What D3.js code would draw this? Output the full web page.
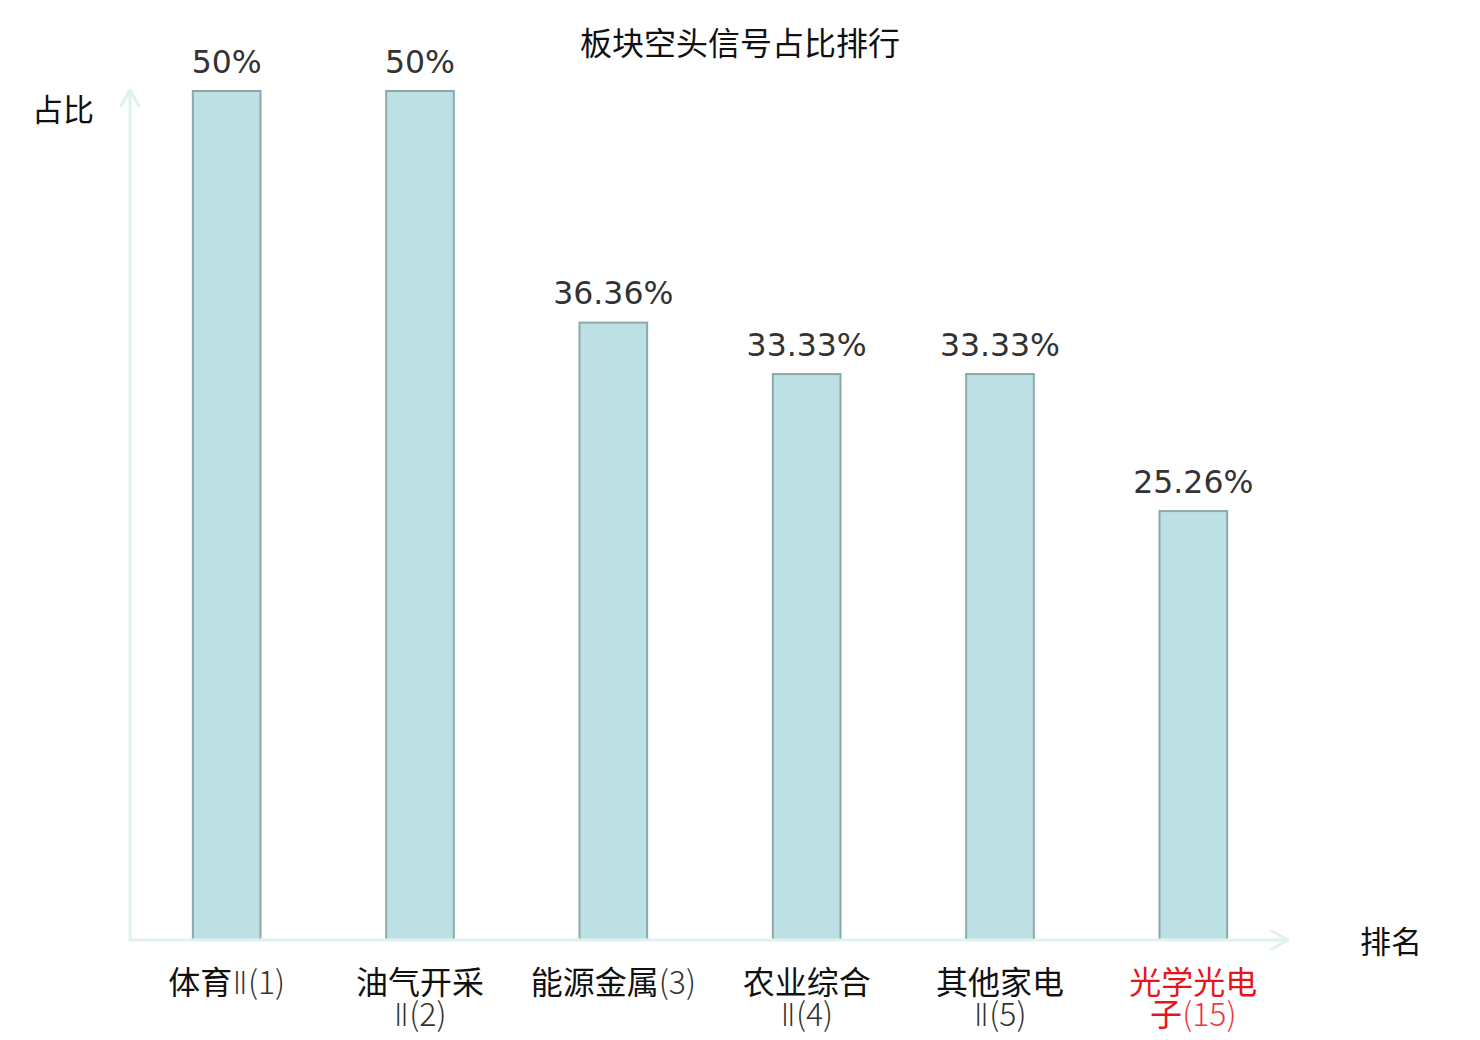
<!DOCTYPE html>
<html><head><meta charset="utf-8">
<script src="https://cdn.jsdelivr.net/npm/d3@7"></script>
<style>
html,body{margin:0;padding:0;background:#fff;}
svg{display:block;}
</style>
</head><body>
<svg id="chart" width="1480" height="1040"></svg>
<script>
const title = "板块空头信号占比排行";
const yAxisName = "占比";
const xAxisName = "排名";
const categories = ["体育Ⅱ(1)", "油气开采Ⅱ(2)", "能源金属(3)", "农业综合Ⅱ(4)", "其他家电Ⅱ(5)", "光学光电子(15)"];
const values = [50, 50, 36.36, 33.33, 33.33, 25.26];
const valueLabels = ["50%", "50%", "36.36%", "33.33%", "33.33%", "25.26%"];
const highlighted = [false, false, false, false, false, true];

(function () {
const svg = d3.select("#chart");
const mLeft = 130, mRight = 1290, mTop = 91, mBottom = 940;
const axisColor = "#dff2ef";
const cjkFont = "'Noto Sans CJK SC', sans-serif";

const x = d3.scaleBand().domain(categories).range([mLeft, mRight]).paddingInner(0.65).paddingOuter(0.325);
const y = d3.scaleLinear().domain([0, 50]).range([mBottom, mTop]);

// title
svg.append("text").attr("x", 740).attr("y", 55).attr("text-anchor", "middle")
  .attr("font-family", cjkFont).attr("font-size", 32).attr("fill", "#111")
  .text(title);

// bars
svg.append("g").selectAll("rect").data(values).join("rect")
  .attr("x", (d, i) => x(categories[i]))
  .attr("y", d => y(d))
  .attr("width", x.bandwidth())
  .attr("height", d => mBottom - y(d))
  .attr("fill", "#bce0e3")
  .attr("stroke", "#8ba9aa")
  .attr("stroke-width", 2);

// value labels
svg.append("g").selectAll("text").data(values).join("text")
  .attr("x", (d, i) => x(categories[i]) + x.bandwidth() / 2)
  .attr("y", d => y(d) - 18.5)
  .attr("text-anchor", "middle")
  .attr("font-family", "'DejaVu Sans', sans-serif").attr("font-size", 31.5).attr("fill", "#333")
  .text((d, i) => valueLabels[i]);

// axes
const axes = svg.append("g").attr("stroke", axisColor).attr("stroke-width", 3).attr("fill", "none")
  .attr("stroke-linecap", "round").attr("stroke-linejoin", "round");
axes.append("line").attr("x1", mLeft).attr("y1", mBottom).attr("x2", mLeft).attr("y2", 90);
axes.append("path").attr("d", `M${mLeft - 9},${106} L${mLeft},${90} L${mLeft + 9},${106}`);
axes.append("line").attr("x1", mLeft).attr("y1", mBottom).attr("x2", 1288).attr("y2", mBottom);
axes.append("path").attr("d", `M${1272},${mBottom - 9} L${1288},${mBottom} L${1272},${mBottom + 9}`);

// axis names
svg.append("text").attr("x", 63).attr("y", 121).attr("text-anchor", "middle")
  .attr("font-family", cjkFont).attr("font-size", 31).attr("fill", "#111").text(yAxisName);
svg.append("text").attr("x", 1391).attr("y", 953).attr("text-anchor", "middle")
  .attr("font-family", cjkFont).attr("font-size", 31).attr("fill", "#111").text(xAxisName);

// category labels: long labels break after the 4th character
function splitLabel(s) {
  const ch = Array.from(s);
  if (ch.length <= 7) return [s];
  return [ch.slice(0, 4).join(""), ch.slice(4).join("")];
}
function runs(s) {
  const out = [];
  Array.from(s).forEach(c => {
    const type = /[\u4e00-\u9fff]/.test(c) ? "han" : (c === "Ⅱ" ? "roman" : "latin");
    if (out.length && out[out.length - 1].type === type) out[out.length - 1].text += c;
    else out.push({ type, text: c });
  });
  return out;
}
const labelG = svg.append("g").attr("font-size", 32);
categories.forEach((c, i) => {
  const cx = x(c) + x.bandwidth() / 2;
  const base = highlighted[i] ? "#e8141b" : "#111";
  const light = highlighted[i] ? "#ee3a3f" : "#333";
  const t = labelG.append("text").attr("x", cx).attr("y", 994).attr("text-anchor", "middle");
  splitLabel(c).forEach((ln, k) => {
    const line = t.append("tspan").attr("x", cx).attr("y", 994 + k * 32);
    runs(ln).forEach(r => {
      const sp = line.append("tspan").text(r.text);
      if (r.type === "han") sp.attr("font-family", cjkFont).attr("fill", base);
      else if (r.type === "roman") sp.attr("font-family", "'DejaVu Sans', sans-serif").attr("font-weight", 200).attr("fill", light);
      else sp.attr("font-family", cjkFont).attr("font-weight", 300).attr("fill", light);
    });
  });
});
})();
</script>
</body></html>
